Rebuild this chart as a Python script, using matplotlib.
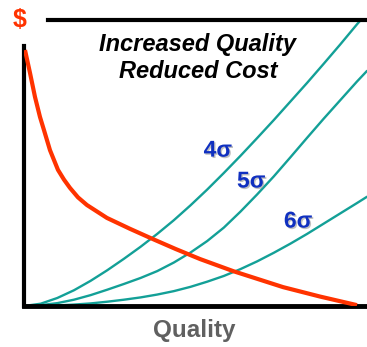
import matplotlib.pyplot as plt
import matplotlib.patheffects as pe

# quality axis positions (arbitrary units) and curves
q = [0, 0.5, 1, 1.5, 2, 2.5, 3, 3.5, 4, 4.5, 5, 5.5, 6, 6.5, 7, 7.5, 8, 8.5, 9, 9.5, 10, 10.3]
defects_4s = [0, 0.08, 0.28, 0.55, 0.88, 1.25, 1.65, 2.07, 2.52, 3.0, 3.52, 4.07,
              4.65, 5.25, 5.87, 6.5, 7.15, 7.8, 8.47, 9.15, 9.85, 10.25]
defects_5s = [0, 0.03, 0.1, 0.22, 0.38, 0.57, 0.77, 0.98, 1.22, 1.52, 1.87, 2.27,
              2.74, 3.3, 3.9, 4.53, 5.2, 5.88, 6.55, 7.2, 7.85, 8.22]
defects_6s = [0, 0.005, 0.02, 0.05, 0.09, 0.15, 0.22, 0.3, 0.4, 0.52, 0.67, 0.85,
              1.05, 1.29, 1.56, 1.86, 2.18, 2.52, 2.88, 3.24, 3.6, 3.82]

cost_q = [0.03, 0.18, 0.33, 0.48, 0.60, 0.78, 1.02, 1.2, 1.38, 1.62, 1.89, 2.49,
          3.18, 3.87, 4.56, 5.29, 6.28, 7.78, 8.89, 10.0]
cost = [8.95, 8.15, 7.31, 6.61, 6.15, 5.45, 4.76, 4.42, 4.13, 3.80, 3.53, 3.08,
        2.70, 2.34, 1.99, 1.64, 1.22, 0.66, 0.33, 0.03]

sigma_labels = ["4σ", "5σ", "6σ"]
label_pos = [(5.82, 5.45), (6.82, 4.37), (8.23, 2.97)]

teal = "#13A097"
red = "#FF3300"
blue = "#1030C0"

plt.rcParams['font.family'] = ['Liberation Sans', 'DejaVu Sans']

fig = plt.figure(figsize=(3.67, 3.47), dpi=100)
W, H = 367, 347
ax = fig.add_axes([24 / W, (H - 306) / H, (W - 24) / W, 286 / H])

for ys in (defects_4s, defects_5s, defects_6s):
    ax.plot(q, ys, color=teal, lw=1.7, solid_capstyle='round', zorder=2)
ax.plot(cost_q, cost, color=red, lw=3, solid_capstyle='butt', zorder=3)

shadow = [pe.withSimplePatchShadow(offset=(1, -1), shadow_rgbFace='#999999', alpha=0.6)]
for lab, (x, y) in zip(sigma_labels, label_pos):
    ax.text(x, y, lab, color=blue, fontsize=16.5, fontweight='bold',
            ha='center', va='center', path_effects=shadow)

ax.set_xlim(0, 10.3)
ax.set_ylim(0, 10)
ax.set_xticks([])
ax.set_yticks([])
ax.spines['right'].set_visible(False)
ax.spines['top'].set_linewidth(3)
ax.spines['left'].set_linewidth(3)
ax.spines['bottom'].set_linewidth(3.5)
ax.spines['top'].set_bounds(0.72, 10.3)
ax.spines['left'].set_bounds(0, 9.09)

fig.text(197 / W, 1 - 44 / H, "Increased Quality", fontsize=17, fontweight='bold',
         fontstyle='italic', ha='center', va='center')
fig.text(198 / W, 1 - 72 / H, "Reduced Cost", fontsize=17, fontweight='bold',
         fontstyle='italic', ha='center', va='center')
fig.text(20 / W, 1 - 20 / H, "$", fontsize=18, fontweight='bold', color=red,
         ha='center', va='center')
fig.text(194 / W, 1 - 331 / H, "Quality", fontsize=17.5, fontweight='bold',
         color='#606060', ha='center', va='center')

fig.savefig("out.png", dpi=100)
